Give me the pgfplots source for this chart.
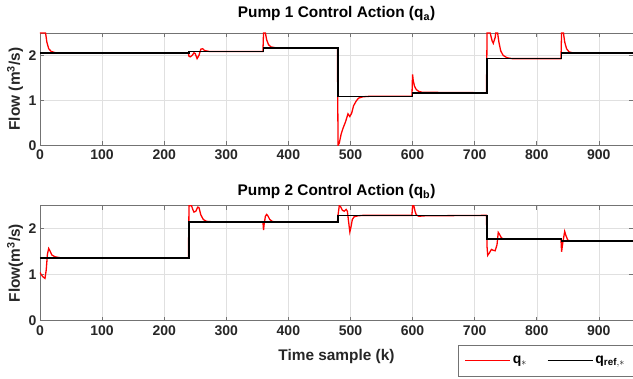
\documentclass[border=0pt]{standalone}
\usepackage{pgfplots}
\pgfplotsset{compat=1.18}
\usepackage{fontspec}
\setmainfont{Liberation Sans}
\newcommand{\tickfont}{\fontsize{14}{16}\selectfont\bfseries}
\newcommand{\labfont}{\fontsize{15.4}{17}\selectfont\bfseries}
\definecolor{axgray}{gray}{0.45}
\definecolor{txtgray}{gray}{0.15}
\pgfplotsset{
  myax/.style={
    scale only axis, width=593pt,
    xmin=0, xmax=955, ymin=0, ymax=2.5,
    xtick={0,100,...,900}, ytick={0,1,2},
    grid=major, major grid style={draw=black!12, line width=0.5pt},
    axis line style={draw=axgray, line width=0.6pt},
    tick style={draw=axgray, line width=0.6pt},
    major tick length=4pt,
    tick align=inside, tick pos=both,
    /pgf/number format/assume math mode=true,
    tick label style={font=\tickfont, text=txtgray},
    xticklabel style={yshift=-1pt},
    yticklabel style={xshift=0pt},
    label style={font=\labfont, text=txtgray},
    title style={font=\labfont, text=black, anchor=base},
    ylabel style={at={(axis description cs:-0.042,0.5)}, anchor=center},
  }
}
\begin{document}
\begin{tikzpicture}
\begin{axis}[myax, height=112.3pt, at={(0,0)}, anchor=south west,
  title={Pump 1 Control Action (q$_\mathbf{a}$)},
  title style={at={(axis description cs:0.5,1)}, yshift=9pt},
  ylabel={Flow (m$^\mathbf{3}$/s)}]
\addplot[red, line width=1.3pt] coordinates {
(0,2.5)(9,2.5)(11,2.3)(14,2.15)(18,2.09)(25,2.06)(35,2.05)(239,2.05)(240,1.98)(242,1.97)(245,2.0)(248,2.06)(250,2.04)(253,1.93)(256,2.0)(259,2.14)(262,2.15)(265,2.11)(272,2.09)(359,2.09)(360,2.5)(363,2.5)(365,2.35)(368,2.24)(372,2.19)(380,2.17)(479,2.17)(480,0)(482,0.05)(485,0.25)(488,0.38)(492,0.52)(496,0.70)(499,0.64)(502,0.72)(505,0.88)(509,0.98)(513,1.05)(520,1.08)(530,1.09)(599,1.09)(600,1.58)(601,1.45)(603,1.32)(606,1.24)(610,1.2)(616,1.18)(719,1.17)(720,2.5)(725,2.5)(728,2.33)(730,2.27)(733,2.4)(734,2.5)(737,2.5)(739,2.3)(742,2.1)(746,2.0)(752,1.95)(760,1.93)(839,1.93)(840,2.5)(843,2.5)(845,2.3)(848,2.15)(852,2.08)(860,2.05)(955,2.05)
};
\addplot[black, line width=1.6pt] coordinates {
(0,2.05)(240,2.05)(240,2.09)(360,2.09)(360,2.17)(480,2.17)(480,1.09)(600,1.09)(600,1.17)(720,1.17)(720,1.93)(840,1.93)(840,2.05)(955,2.05)
};
\end{axis}
\begin{axis}[myax, height=115pt, at={(0,-175.4pt)}, anchor=south west,
  title={Pump 2 Control Action (q$_\mathbf{b}$)},
  title style={at={(axis description cs:0.5,1)}, yshift=4pt},
  ylabel={Flow(m$^\mathbf{3}$/s)},
  xlabel={Time sample (k)},
  xlabel style={at={(axis description cs:0.5,0)}, anchor=center, yshift=-36pt},
  legend columns=2,
  legend style={at={(axis description cs:1,-0.211)}, anchor=north east,
    draw=axgray, font=\tickfont, text=black, inner xsep=6pt, inner ysep=9pt,
    /tikz/every even column/.append style={column sep=18pt}},
  legend image code/.code={\draw[#1] (0pt,0pt) -- (45pt,0pt);}]
\addplot[red, line width=1.3pt] coordinates {
(0,1.05)(2,1.0)(5,0.95)(8,0.92)(10,1.1)(12,1.45)(14,1.57)(16,1.52)(19,1.43)(24,1.39)(32,1.37)(45,1.36)(239,1.36)(240,2.5)(244,2.5)(246,2.42)(248,2.36)(251,2.38)(254,2.47)(256,2.46)(259,2.3)(263,2.2)(268,2.16)(278,2.15)(359,2.15)(360,1.97)(361,2.1)(363,2.27)(365,2.31)(367,2.28)(370,2.2)(374,2.16)(380,2.14)(479,2.14)(480,2.3)(482,2.5)(484,2.48)(487,2.4)(490,2.38)(493,2.42)(495,2.38)(497,2.15)(499,1.93)(501,2.05)(503,2.2)(506,2.26)(512,2.28)(520,2.29)(599,2.29)(600,2.5)(602,2.5)(604,2.38)(606,2.3)(610,2.27)(620,2.28)(719,2.29)(720,1.6)(721,1.42)(724,1.48)(727,1.55)(730,1.53)(733,1.52)(736,1.65)(738,1.92)(740,1.88)(743,1.8)(748,1.77)(839,1.77)(840,1.5)(842,1.7)(845,1.94)(847,1.85)(850,1.75)(855,1.73)(955,1.73)
};
\addlegendentry{q$_\ast$}
\addplot[black, line width=1.6pt] coordinates {
(0,1.36)(240,1.36)(240,2.15)(360,2.15)(360,2.14)(480,2.14)(480,2.29)(720,2.29)(720,1.77)(840,1.77)(840,1.73)(955,1.73)
};
\addlegendentry{q$_{\mathbf{ref},\ast}$}
\end{axis}
\pgfresetboundingbox
\useasboundingbox (-40pt,145.3pt) rectangle (593pt,-233.7pt);
\end{tikzpicture}
\end{document}
